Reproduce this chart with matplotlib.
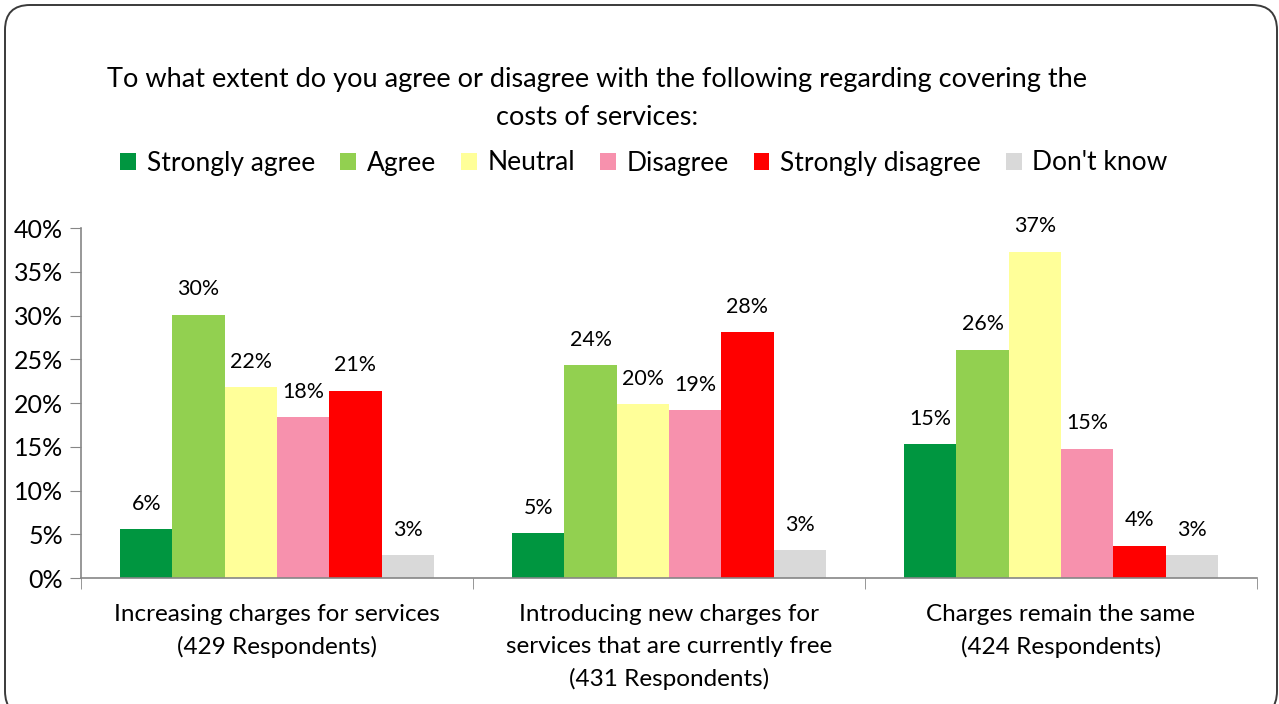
import matplotlib.pyplot as plt
import numpy as np
from matplotlib.patches import FancyBboxPatch

plt.rcParams['font.family'] = ['Lato', 'DejaVu Sans']

categories = [
    "Increasing charges for services\n(429 Respondents)",
    "Introducing new charges for\nservices that are currently free\n(431 Respondents)",
    "Charges remain the same\n(424 Respondents)",
]
responses = ["Strongly agree", "Agree", "Neutral", "Disagree",
             "Strongly disagree", "Don't know"]
colors = ["#009640", "#92D050", "#FFFF99", "#F791AD", "#FF0000", "#D9D9D9"]

# percent of respondents, one list per response across the three questions
strongly_agree = [5.6, 5.1, 15.3]
agree = [30.1, 24.3, 26.1]
neutral = [21.8, 19.9, 37.3]
disagree = [18.4, 19.2, 14.8]
strongly_disagree = [21.4, 28.1, 3.7]
dont_know = [2.6, 3.2, 2.6]
series = [strongly_agree, agree, neutral, disagree, strongly_disagree, dont_know]

fig = plt.figure(figsize=(12.79, 7.04), dpi=100)
ax = fig.add_axes([81 / 1279, 1 - 578 / 704, (1257 - 81) / 1279, 350 / 704])

x = np.arange(len(categories))
width = 0.8 / len(series)
for i, (vals, name, col) in enumerate(zip(series, responses, colors)):
    pos = x - 0.4 + width * (i + 0.5)
    bars = ax.bar(pos, vals, width, color=col, label=name, linewidth=0)
    for b, v in zip(bars, vals):
        ax.annotate(f"{v:.0f}%", (b.get_x() + b.get_width() / 2, v),
                    xytext=(0, 11), textcoords="offset points",
                    ha="center", va="bottom", fontsize=15.4)

ax.set_xlim(-0.5, len(categories) - 0.5)
ax.set_ylim(0, 40)
ax.set_yticks(range(0, 41, 5))
ax.set_yticklabels([f"{t}%" for t in range(0, 41, 5)], fontsize=18)
ax.set_xticks(x)
ax.set_xticklabels(categories, fontsize=17.5, linespacing=1.64)
ax.set_xticks(np.arange(-0.5, len(categories), 1), minor=True)
ax.tick_params(axis="x", which="major", length=0, pad=18.5)
ax.tick_params(axis="x", which="minor", length=8, color="#868686")
ax.tick_params(axis="y", length=8, color="#868686", pad=5)

for s in ["top", "right"]:
    ax.spines[s].set_visible(False)
for s in ["left", "bottom"]:
    ax.spines[s].set_color("#868686")
    ax.spines[s].set_linewidth(1.2)

fig.text(597 / 1279, 1 - 98.5 / 704,
         "To what extent do you agree or disagree with the following regarding covering the\ncosts of services:",
         ha="center", va="center", fontsize=19.5, linespacing=1.65)

fig.legend(loc="center", bbox_to_anchor=(644 / 1279, 1 - 163 / 704), ncol=6,
           frameon=False, fontsize=19, handlelength=0.6, handleheight=0.6,
           handletextpad=0.4, columnspacing=0.95)

# rounded frame around the whole chart, sized in inches
border = FancyBboxPatch((0.05, -0.12), 12.72, 7.11,
                        boxstyle="round,pad=0,rounding_size=0.25",
                        transform=fig.dpi_scale_trans, fill=False,
                        edgecolor="#3A3A3A", linewidth=1.4)
fig.patches.append(border)

fig.savefig("out.png", dpi=100)
